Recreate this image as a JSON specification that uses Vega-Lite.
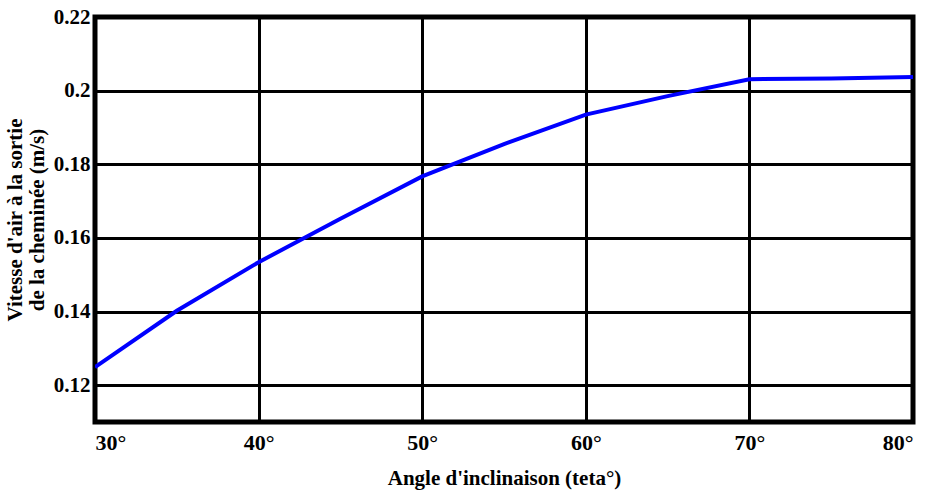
{
  "$schema": "https://vega.github.io/schema/vega-lite/v6.json",
  "width": 818,
  "height": 405,
  "autosize": {"type": "none"},
  "padding": {"left": 95, "top": 17, "right": 12, "bottom": 75},
  "background": "white",
  "config": {
    "view": {"stroke": "black", "strokeWidth": 5},
    "axis": {
      "labelFont": "Times New Roman, serif",
      "titleFont": "Times New Roman, serif",
      "labelFontWeight": "bold",
      "titleFontWeight": "bold",
      "labelColor": "black",
      "titleColor": "black",
      "gridColor": "black",
      "gridWidth": 3,
      "gridOpacity": 1,
      "domain": false,
      "ticks": false
    }
  },
  "data": {
    "values": [
      {"angle": 30, "v": 0.1249},
      {"angle": 35, "v": 0.1402},
      {"angle": 40, "v": 0.1534},
      {"angle": 45, "v": 0.1652},
      {"angle": 50, "v": 0.1767},
      {"angle": 55, "v": 0.1855},
      {"angle": 60, "v": 0.1935},
      {"angle": 65, "v": 0.1985},
      {"angle": 70, "v": 0.2031},
      {"angle": 75, "v": 0.2033},
      {"angle": 80, "v": 0.2037}
    ]
  },
  "mark": {"type": "line", "color": "#0000FF", "strokeWidth": 4, "clip": true},
  "encoding": {
    "x": {
      "field": "angle",
      "type": "quantitative",
      "scale": {"domain": [30, 80], "nice": false},
      "axis": {
        "values": [30, 40, 50, 60, 70, 80],
        "labelExpr": "datum.value + '°'",
        "labelFontSize": 22,
        "labelPadding": 10,
        "title": "Angle d'inclinaison (teta°)",
        "titleFontSize": 21,
        "titlePadding": 14
      }
    },
    "y": {
      "field": "v",
      "type": "quantitative",
      "scale": {"domain": [0.11, 0.22], "nice": false, "zero": false},
      "axis": {
        "values": [0.12, 0.14, 0.16, 0.18, 0.2, 0.22],
        "format": ".2~f",
        "labelFontSize": 21,
        "labelPadding": 5,
        "title": ["Vitesse d'air à la sortie", "de la cheminée (m/s)"],
        "titleFontSize": 21,
        "titlePadding": 6,
        "titleLineHeight": 22
      }
    }
  }
}
